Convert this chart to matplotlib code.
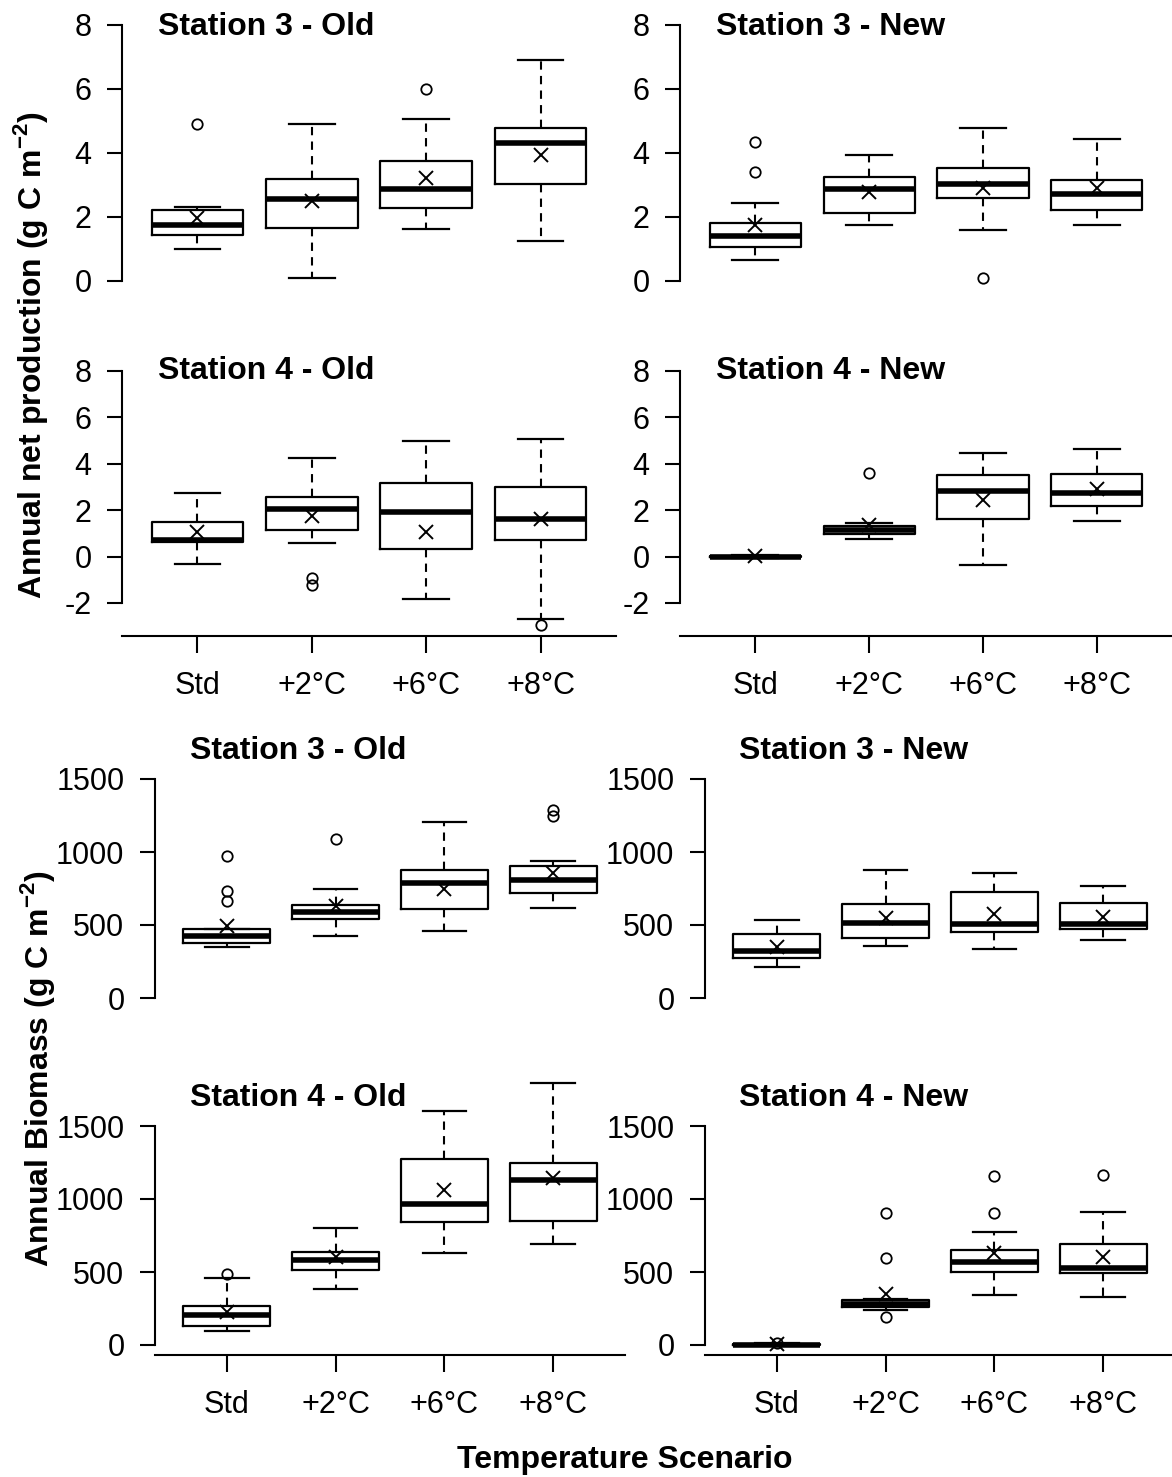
import matplotlib
matplotlib.use("Agg")
import matplotlib.pyplot as plt

plt.rcParams['font.family'] = ['Liberation Sans', 'DejaVu Sans']
plt.rcParams['axes.unicode_minus'] = False
plt.rcParams['mathtext.fontset'] = 'custom'
plt.rcParams['mathtext.rm'] = 'Liberation Sans'
plt.rcParams['mathtext.bf'] = 'Liberation Sans:bold'

# ---------------- data ----------------
scenarios = ["Std", "+2°C", "+6°C", "+8°C"]

npp_s3_old = dict(whislo=[0.99, 0.10, 1.62, 1.25], q1=[1.43, 1.67, 2.28, 3.03],
                  med=[1.74, 2.55, 2.86, 4.31], q3=[2.22, 3.18, 3.74, 4.78],
                  whishi=[2.31, 4.90, 5.05, 6.90], mean=[1.98, 2.50, 3.21, 3.94],
                  fliers=[[4.90], [], [6.01], []])
npp_s3_new = dict(whislo=[0.67, 1.76, 1.58, 1.74], q1=[1.07, 2.12, 2.58, 2.22],
                  med=[1.40, 2.89, 3.02, 2.73], q3=[1.81, 3.25, 3.52, 3.15],
                  whishi=[2.43, 3.95, 4.79, 4.45], mean=[1.75, 2.78, 2.92, 2.92],
                  fliers=[[3.40, 4.35], [], [0.09], []])
npp_s4_old = dict(whislo=[-0.30, 0.57, -1.84, -2.69], q1=[0.64, 1.14, 0.31, 0.71],
                  med=[0.73, 2.06, 1.91, 1.61], q3=[1.50, 2.56, 3.17, 3.01],
                  whishi=[2.74, 4.23, 4.97, 5.07], mean=[1.04, 1.73, 1.07, 1.61],
                  fliers=[[], [-0.91, -1.23], [], [-2.96]])
npp_s4_new = dict(whislo=[-0.04, 0.76, -0.36, 1.54], q1=[-0.03, 0.99, 1.64, 2.16],
                  med=[0.00, 1.16, 2.83, 2.74], q3=[0.03, 1.31, 3.50, 3.56],
                  whishi=[0.05, 1.46, 4.47, 4.63], mean=[0.02, 1.36, 2.46, 2.90],
                  fliers=[[], [3.60], [], []])

bio_s3_old = dict(whislo=[349, 426, 460, 616], q1=[377, 543, 609, 717],
                  med=[425, 591, 788, 811], q3=[473, 639, 875, 904],
                  whishi=[475, 749, 1207, 941], mean=[495, 630, 749, 859],
                  fliers=[[664, 733, 973], [1090], [], [1246, 1289]])
bio_s3_new = dict(whislo=[213, 359, 337, 398], q1=[277, 410, 451, 476],
                  med=[325, 511, 504, 508], q3=[435, 643, 724, 648],
                  whishi=[536, 875, 856, 767], mean=[348, 550, 577, 556],
                  fliers=[[], [], [], []])
bio_s4_old = dict(whislo=[99, 384, 632, 694], q1=[133, 512, 841, 850],
                  med=[204, 583, 965, 1128], q3=[264, 636, 1275, 1245],
                  whishi=[459, 804, 1606, 1794], mean=[227, 600, 1059, 1146],
                  fliers=[[489], [], [], []])
bio_s4_new = dict(whislo=[-3, 237, 340, 326], q1=[0, 260, 503, 491],
                  med=[3, 280, 567, 530], q3=[8, 305, 650, 691],
                  whishi=[12, 315, 771, 909], mean=[5, 347, 629, 601],
                  fliers=[[12], [191, 595, 907], [907, 1160], [1162]])

titles = ["Station 3 - Old", "Station 3 - New", "Station 4 - Old", "Station 4 - New"]

# ---------------- layout ----------------
W, H = 1172, 1477
fig = plt.figure(figsize=(W / 100, H / 100), dpi=100)

TICK_FS_NPP = 22
TICK_FS_BIO = 22
TITLE_FS = 23


def make_ax(x0, x1, v_hi, p_hi, v_lo, p_lo, ylim):
    scale = (p_lo - p_hi) / (v_hi - v_lo)
    top_px = p_hi - (ylim[1] - v_hi) * scale
    bot_px = p_lo + (v_lo - ylim[0]) * scale
    ax = fig.add_axes([x0 / W, 1 - bot_px / H, (x1 - x0) / W, (bot_px - top_px) / H])
    ax.set_xlim(0.34, 4.66)
    ax.set_ylim(*ylim)
    ax.patch.set_alpha(0)
    return ax


def draw(ax, d, yticks, ybounds, show_x, fs):
    stats = []
    for i in range(4):
        stats.append(dict(whislo=d['whislo'][i], q1=d['q1'][i], med=d['med'][i],
                          q3=d['q3'][i], whishi=d['whishi'][i], mean=d['mean'][i],
                          fliers=d['fliers'][i]))
    ax.bxp(stats, positions=[1, 2, 3, 4], widths=0.8, capwidths=0.4,
           showmeans=True, manage_ticks=False,
           boxprops=dict(color='black', linewidth=1.6),
           whiskerprops=dict(color='black', linewidth=1.5, linestyle=(0, (4, 3))),
           capprops=dict(color='black', linewidth=1.6),
           medianprops=dict(color='black', linewidth=4.0, solid_capstyle='butt'),
           flierprops=dict(marker='o', markersize=7.5, markerfacecolor='none',
                           markeredgecolor='black', markeredgewidth=1.3, linestyle='none'),
           meanprops=dict(marker='x', markersize=10, markeredgecolor='black',
                          markeredgewidth=1.4, linestyle='none'))
    for s in ['top', 'right']:
        ax.spines[s].set_visible(False)
    ax.spines['left'].set_bounds(ybounds[0], ybounds[1])
    ax.spines['left'].set_linewidth(1.5)
    ax.set_yticks(yticks)
    ax.set_yticklabels([str(t) for t in yticks])
    ax.tick_params(axis='y', direction='out', length=11, width=1.5, pad=11,
                   labelsize=fs)
    if show_x:
        ax.spines['bottom'].set_linewidth(1.5)
        ax.set_xticks([1, 2, 3, 4])
        ax.set_xticklabels(scenarios)
        ax.tick_params(axis='x', direction='out', length=12, width=1.5, pad=13,
                       labelsize=fs)
    else:
        ax.spines['bottom'].set_visible(False)
        ax.set_xticks([])


def title(x, y_base, text):
    fig.text(x / W, 1 - y_base / H, text, ha='left', va='baseline',
             fontsize=TITLE_FS, fontweight='bold')


# NPP row 1
a = make_ax(122, 616, 8, 25, 0, 281, (-0.5, 8.5))
draw(a, npp_s3_old, [0, 2, 4, 6, 8], (0, 8), False, TICK_FS_NPP)
b = make_ax(680, 1172, 8, 25, 0, 281, (-0.5, 8.5))
draw(b, npp_s3_new, [0, 2, 4, 6, 8], (0, 8), False, TICK_FS_NPP)
# NPP row 2
c = make_ax(122, 616, 8, 371, -2, 603, (-3.42, 8.5))
draw(c, npp_s4_old, [-2, 0, 2, 4, 6, 8], (-2, 8), True, TICK_FS_NPP)
d = make_ax(680, 1172, 8, 371, -2, 603, (-3.42, 8.5))
draw(d, npp_s4_new, [-2, 0, 2, 4, 6, 8], (-2, 8), True, TICK_FS_NPP)
# Biomass row 3
e = make_ax(155, 625, 1500, 779, 0, 998, (-60, 1560))
draw(e, bio_s3_old, [0, 500, 1000, 1500], (0, 1500), False, TICK_FS_BIO)
f = make_ax(705, 1175, 1500, 779, 0, 998, (-60, 1560))
draw(f, bio_s3_new, [0, 500, 1000, 1500], (0, 1500), False, TICK_FS_BIO)
# Biomass row 4
g = make_ax(155, 625, 1500, 1126, 0, 1345, (-68, 1850))
draw(g, bio_s4_old, [0, 500, 1000, 1500], (0, 1500), True, TICK_FS_BIO)
h = make_ax(705, 1175, 1500, 1126, 0, 1345, (-68, 1850))
draw(h, bio_s4_new, [0, 500, 1000, 1500], (0, 1500), True, TICK_FS_BIO)

title(158, 35, titles[0])
title(716, 35, titles[1])
title(158, 379, titles[2])
title(716, 379, titles[3])
title(190, 759, titles[0])
title(739, 759, titles[1])
title(190, 1106, titles[2])
title(739, 1106, titles[3])

fig.text(31 / W, 1 - 355 / H, r"Annual net production (g C m$^{\mathbf{-2}}$)",
         rotation=90, ha='center', va='center', fontsize=TITLE_FS, fontweight='bold')
fig.text(38 / W, 1 - 1068 / H, r"Annual Biomass (g C m$^{\mathbf{-2}}$)",
         rotation=90, ha='center', va='center', fontsize=TITLE_FS, fontweight='bold')
fig.text(625 / W, 1 - 1468 / H, "Temperature Scenario", ha='center', va='baseline',
         fontsize=TITLE_FS, fontweight='bold')

fig.savefig("out.png", dpi=100)
